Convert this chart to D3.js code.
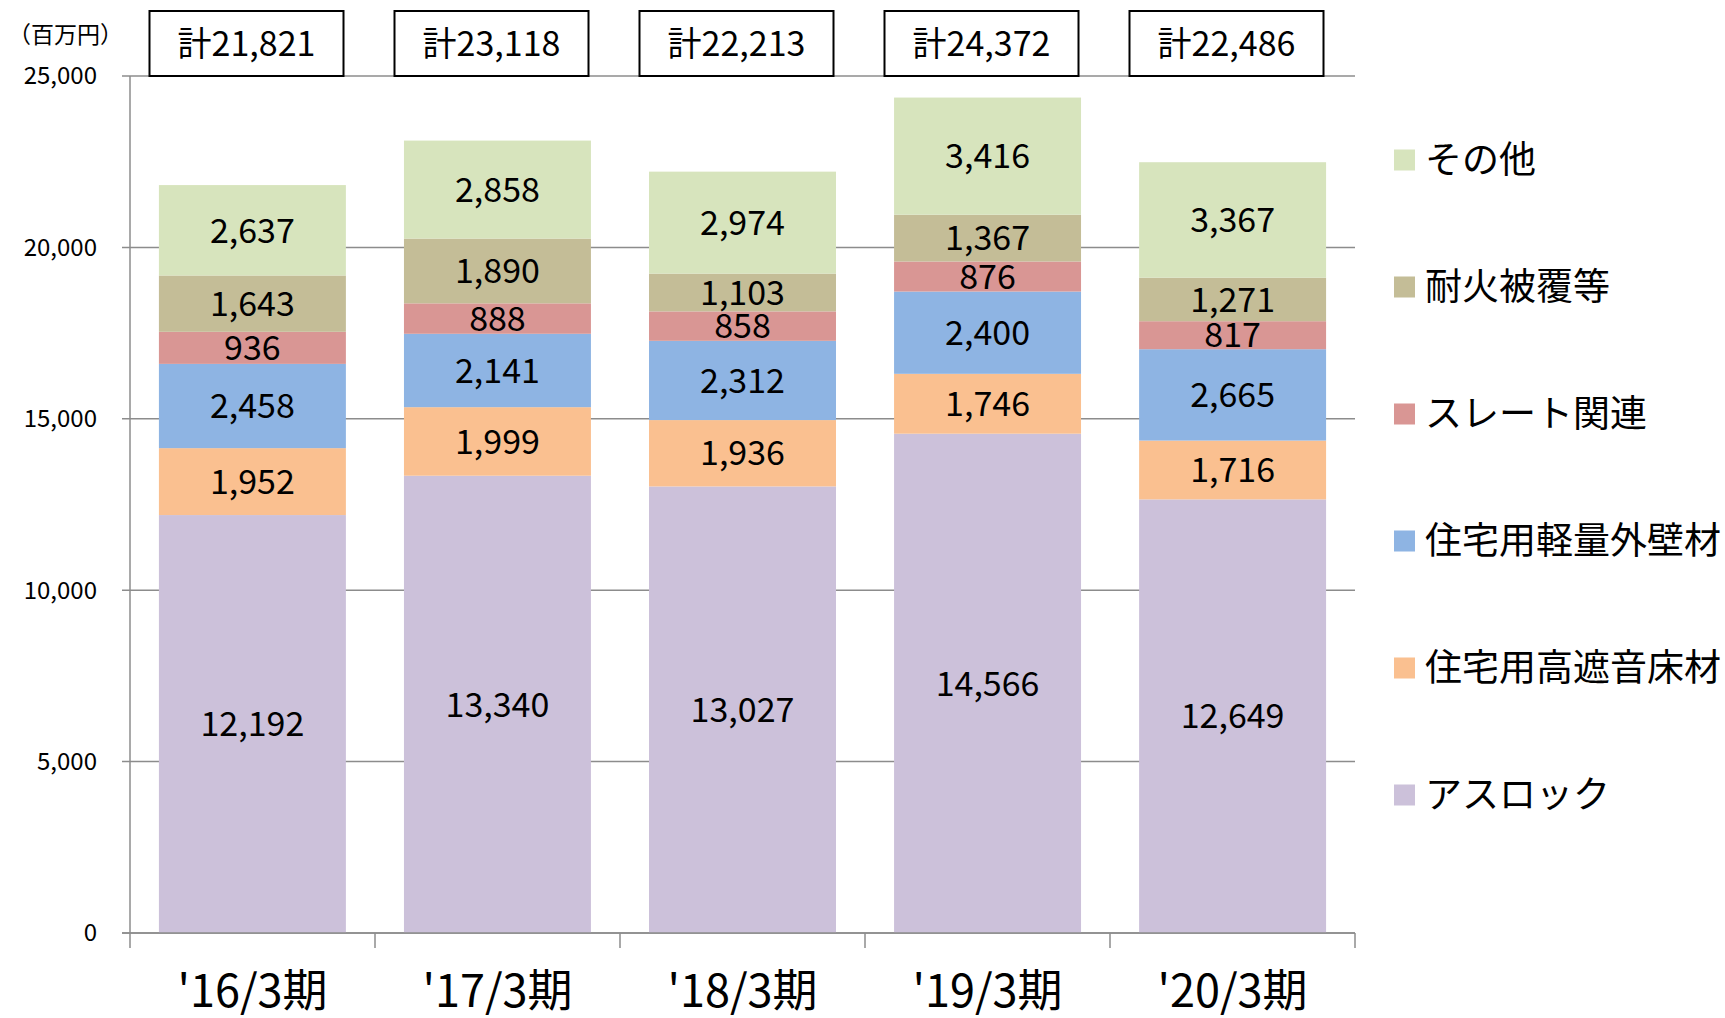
<!DOCTYPE html>
<html>
<head>
<meta charset="utf-8">
<script src="https://cdn.jsdelivr.net/npm/d3@7"></script>
<style>
  body { margin: 0; background: #fff; }
  svg { display: block; font-family: "Noto Sans CJK JP", "Noto Sans", sans-serif; }
</style>
</head>
<body>
<svg id="chart"></svg>
<script>
(function () {
  const width = 1725;
  const height = 1018;

  // data (百万円)
  const periods = ["'16/3期", "'17/3期", "'18/3期", "'19/3期", "'20/3期"];
  const seriesNames = ["アスロック", "住宅用高遮音床材", "住宅用軽量外壁材", "スレート関連", "耐火被覆等", "その他"];
  const seriesColors = ["#ccc1da", "#fac090", "#8eb4e3", "#d99694", "#c4bd97", "#d7e4bd"];
  const asrock = [12192, 13340, 13027, 14566, 12649];
  const floorMat = [1952, 1999, 1936, 1746, 1716];
  const wallMat = [2458, 2141, 2312, 2400, 2665];
  const slate = [936, 888, 858, 876, 817];
  const fireproof = [1643, 1890, 1103, 1367, 1271];
  const others = [2637, 2858, 2974, 3416, 3367];
  const totals = [21821, 23118, 22213, 24372, 22486];
  const yTicks = [0, 5000, 10000, 15000, 20000, 25000];

  const seriesValues = [asrock, floorMat, wallMat, slate, fireproof, others];
  const rows = periods.map((p, i) => {
    const row = { period: p };
    seriesNames.forEach((s, j) => { row[s] = seriesValues[j][i]; });
    return row;
  });
  const stacked = d3.stack().keys(seriesNames)(rows);

  const svg = d3.select("#chart")
    .attr("width", width)
    .attr("height", height);

  const x0 = 130, x1 = 1355, yTop = 76, yBottom = 933;

  const x = d3.scaleBand().domain(periods).range([x0, x1]).paddingInner(0.237).paddingOuter(0.118);
  const xCat = d3.scaleBand().domain(periods).range([x0, x1]);
  const y = d3.scaleLinear().domain([0, 25000]).range([yBottom, yTop]);
  const fmt = d3.format(",");

  // gridlines
  svg.append("g")
    .selectAll("line")
    .data(yTicks)
    .join("line")
    .attr("x1", x0 - 8)
    .attr("x2", x1)
    .attr("y1", d => y(d))
    .attr("y2", d => y(d))
    .attr("stroke", "#8c8c8c")
    .attr("stroke-width", 1.5);

  // y axis line
  svg.append("line")
    .attr("x1", x0).attr("x2", x0)
    .attr("y1", yTop).attr("y2", yBottom)
    .attr("stroke", "#8c8c8c").attr("stroke-width", 1.5);

  // y tick labels
  svg.append("g")
    .selectAll("text")
    .data(yTicks)
    .join("text")
    .attr("x", 97)
    .attr("y", d => y(d))
    .attr("dy", "0.35em")
    .attr("text-anchor", "end")
    .attr("font-size", 24)
    .text(d => fmt(d));

  svg.append("text")
    .attr("x", 8)
    .attr("y", 43)
    .attr("font-size", 23)
    .text("（百万円）");

  // bars
  const layers = svg.append("g")
    .selectAll("g")
    .data(stacked)
    .join("g")
    .attr("fill", (d, i) => seriesColors[i]);

  layers.selectAll("rect")
    .data(d => d)
    .join("rect")
    .attr("x", d => x(d.data.period))
    .attr("width", x.bandwidth())
    .attr("y", d => y(d[1]))
    .attr("height", d => y(d[0]) - y(d[1]));

  // segment labels
  svg.append("g")
    .selectAll("g")
    .data(stacked)
    .join("g")
    .selectAll("text")
    .data(d => d.map(v => ({ v, value: v[1] - v[0] })))
    .join("text")
    .attr("x", d => x(d.v.data.period) + x.bandwidth() / 2)
    .attr("y", d => (y(d.v[0]) + y(d.v[1])) / 2)
    .attr("dy", "0.36em")
    .attr("text-anchor", "middle")
    .attr("font-size", 34)
    .attr("fill", "#000")
    .text(d => fmt(d.value));

  // x axis
  svg.append("line")
    .attr("x1", x0 - 8).attr("x2", x1)
    .attr("y1", yBottom).attr("y2", yBottom)
    .attr("stroke", "#8c8c8c").attr("stroke-width", 1.5);

  const boundaries = periods.map(p => xCat(p)).concat([x1]);
  svg.append("g")
    .selectAll("line")
    .data(boundaries)
    .join("line")
    .attr("x1", d => d).attr("x2", d => d)
    .attr("y1", yBottom).attr("y2", yBottom + 15)
    .attr("stroke", "#8c8c8c").attr("stroke-width", 1.5);

  svg.append("g")
    .selectAll("text")
    .data(periods)
    .join("text")
    .attr("x", d => xCat(d) + xCat.bandwidth() / 2)
    .attr("y", 1007)
    .attr("text-anchor", "middle")
    .attr("font-size", 45)
    .text(d => d);

  // total boxes
  const boxW = 194, boxH = 65;
  const boxes = svg.append("g")
    .selectAll("g")
    .data(periods)
    .join("g")
    .attr("transform", (d) => `translate(${xCat(d) + xCat.bandwidth() / 2 - 6 - boxW / 2},11)`);

  boxes.append("rect")
    .attr("width", boxW)
    .attr("height", boxH)
    .attr("fill", "#fff")
    .attr("stroke", "#000")
    .attr("stroke-width", 2);

  boxes.append("text")
    .attr("x", boxW / 2)
    .attr("y", 45)
    .attr("text-anchor", "middle")
    .attr("font-size", 34)
    .text((d, i) => "計" + fmt(totals[i]));

  // legend (top to bottom: その他 ... アスロック)
  const legendItems = seriesNames.map((s, i) => ({ name: s, color: seriesColors[i] })).reverse();
  const legend = svg.append("g")
    .selectAll("g")
    .data(legendItems)
    .join("g")
    .attr("transform", (d, i) => `translate(1394,${160 + i * 127})`);

  legend.append("rect")
    .attr("y", -10.5)
    .attr("width", 21)
    .attr("height", 21)
    .attr("fill", d => d.color);

  legend.append("text")
    .attr("x", 31)
    .attr("dy", "0.36em")
    .attr("font-size", 37)
    .text(d => d.name);
})();
</script>
</body>
</html>
